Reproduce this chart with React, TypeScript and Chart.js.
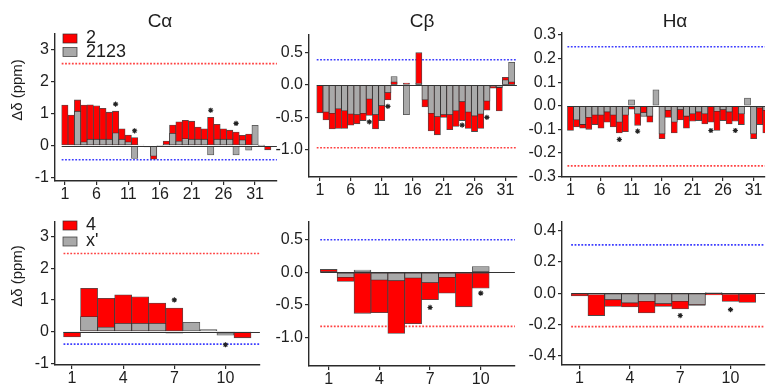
import React, { useEffect, useRef } from 'react';
import { Chart, registerables } from 'chart.js';

Chart.register(...registerables);

// ---------------- data ----------------
const residuesTop = [1, 2, 3, 4, 5, 6, 7, 8, 9, 10, 11, 12, 13, 14, 15, 16, 17, 18, 19, 20, 21, 22, 23, 24, 25, 26, 27, 28, 29, 30, 31, 32, 33];
const residuesBottom = [1, 2, 3, 4, 5, 6, 7, 8, 9, 10, 11];
const xTicksTop = [1, 6, 11, 16, 21, 26, 31];
const xTicksBottom = [1, 4, 7, 10];

// top row: peptide "2" (red) vs "2123" (gray)
const caTop2 = [1.26, 0.95, 1.42, 1.26, 1.27, 1.24, 1.16, 1.04, 1.07, 0.52, 0.33, 0.25, 0, 0, -0.42, 0, 0.14, 0.64, 0.74, 0.79, 0.76, 0.58, 0.52, 0.88, 0.66, 0.52, 0.48, 0.42, 0.32, 0.36, 0, 0, -0.13];
const caTop2123 = [0, 0, 1.07, 0.12, 0.2, 0.2, 0.2, 0.2, 0.4, 0.2, 0.12, -0.4, 0.02, -0.04, -0.33, -0.01, 0.05, 0.38, 0.14, 0.22, 0.2, 0.2, 0.2, -0.29, 0.2, 0.2, 0.2, -0.29, 0.18, -0.14, 0.63, 0.01, 0];
const cbTop2 = [-0.43, -0.54, -0.68, -0.67, -0.67, -0.62, -0.6, -0.55, -0.47, -0.68, -0.55, -0.23, 0.05, 0, 0.03, 0, 0.5, -0.34, -0.71, -0.77, -0.5, -0.69, -0.64, -0.55, -0.67, -0.72, -0.67, -0.39, -0.05, -0.4, 0.12, 0.05, 0];
const cbTop2123 = [0, -0.42, -0.44, -0.37, -0.4, -0.45, -0.46, -0.44, -0.22, -0.46, -0.32, -0.12, 0.13, 0, -0.46, 0, 0.03, -0.23, -0.44, -0.49, -0.46, -0.46, -0.4, -0.26, -0.42, -0.48, -0.45, -0.25, -0.03, -0.04, 0.08, 0.35, 0];
const haTop2 = [-0.105, -0.09, -0.095, -0.1, -0.08, -0.095, -0.07, -0.09, -0.115, -0.11, -0.015, -0.083, -0.03, -0.07, 0, -0.14, -0.05, -0.115, -0.06, -0.095, -0.066, -0.063, -0.077, -0.07, -0.105, -0.063, -0.077, -0.066, -0.08, 0, -0.14, -0.08, -0.115];
const haTop2123 = [0, -0.06, -0.08, -0.05, -0.04, -0.04, -0.027, -0.04, -0.07, -0.04, 0.025, -0.035, -0.045, -0.045, 0.067, -0.12, -0.02, -0.07, -0.017, -0.045, -0.035, -0.027, -0.035, 0, -0.024, -0.017, -0.027, 0, -0.035, 0.032, -0.12, -0.01, -0.02];

// bottom row: peptide "4" (red) vs "x'" (gray)
const caBot4 = [-0.17, 1.37, 1.05, 1.16, 1.1, 0.9, 0.74, 0, 0, -0.05, -0.2];
const caBotX = [0, 0.47, 0.14, 0.26, 0.26, 0.26, -0.05, 0.29, 0.06, -0.12, -0.02];
const cbBot4 = [0.045, -0.14, -0.63, -0.62, -0.94, -0.79, -0.42, -0.32, -0.53, -0.245, 0];
const cbBotX = [0, -0.08, 0.035, -0.12, -0.13, -0.09, -0.16, -0.08, -0.01, 0.09, 0];
const haBot4 = [-0.017, -0.143, -0.084, -0.088, -0.126, -0.084, -0.1, -0.078, -0.01, -0.053, -0.059];
const haBotX = [0, -0.01, -0.042, -0.063, -0.053, -0.067, -0.053, -0.074, 0.004, -0.008, -0.005];

// asterisks
const starResTop = [9, 12, 24, 28];
const caTopStarY = [1.29, 0.46, 1.1, 0.69];
const cbTopStarY = [-0.57, -0.33, -0.62, -0.5];
const haTopStarY = [-0.143, -0.108, -0.105, -0.105];
const starResBottom = [7, 10];
const caBotStarY = [1.0, -0.42];
const cbBotStarY = [-0.54, -0.32];
const haBotStarY = [-0.143, -0.105];

// y ticks
const caYTicks = [3, 2, 1, 0, -1];
const cbYTicks = [0.5, 0, -0.5, -1];
const haTopYTicks = [0.3, 0.2, 0.1, 0, -0.1, -0.2, -0.3];
const haBotYTicks = [0.4, 0.2, 0, -0.2, -0.4];

// threshold lines [red, blue]
const caTopLimits = [2.55, -0.44];
const cbTopLimits = [-0.97, 0.39];
const haTopLimits = [-0.255, 0.25];
const caBotLimits = [2.47, -0.4];
const cbBotLimits = [-0.83, 0.5];
const haBotLimits = [-0.214, 0.31];

const legendTop = ['2', '2123'];
const legendBottom = ['4', "x'"];
const titles = ['C\u03b1', 'C\u03b2', 'H\u03b1'];
const yAxisLabel = '\u0394\u03b4 (ppm)';

// ---------------- styles ----------------
const RED = '#ff0000';
const GRAY = '#a9a9a9';
const EDGE = 'rgba(45,45,45,0.85)';
const AXIS = '#2a2a2a';
const TEXT = '#1e1e1e';
const FONT = "'Liberation Sans', Arial, Helvetica, sans-serif";
Chart.defaults.font.family = FONT;

type PanelCfg = {
  key: string;
  left: number; top: number; width: number; height: number;
  padTop: number; padRight: number; yW: number; xH: number;
  xMin: number; xMax: number; yMin: number; yMax: number;
  residues: number[]; red: number[]; gray: number[];
  starX: number[]; starY: number[];
  xTicks: number[]; yTicks: number[]; intY: boolean;
  limits: number[];
  title?: string; titleX?: number; titleY?: number;
  ylabel?: { x: number; y: number };
  legend?: { labels: string[]; x: number; y1: number; y2: number };
};

function buildLayers(residues: number[], red: number[], gray: number[]) {
  const back: any[] = [], front: any[] = [], backC: string[] = [], frontC: string[] = [];
  residues.forEach((r, i) => {
    const a = red[i], b = gray[i];
    const redBig = Math.abs(a) >= Math.abs(b);
    const big = redBig ? a : b, small = redBig ? b : a;
    back.push({ x: r, y: big === 0 ? null : big });
    backC.push(redBig ? RED : GRAY);
    front.push({ x: r, y: small === 0 ? null : small });
    frontC.push(redBig ? GRAY : RED);
  });
  return { back, front, backC, frontC };
}

function makeDecor(p: PanelCfg) {
  return {
    id: 'decor_' + p.key,
    beforeDatasetsDraw(chart: any) {
      const { ctx, chartArea, scales } = chart;
      const xs = scales.x, ys = scales.y;
      const x0 = xs.getPixelForValue(p.residues[0] - 0.5);
      ctx.save();
      ctx.lineWidth = 1.6;
      ctx.setLineDash([1.8, 1.6]);
      [['rgba(255,55,55,0.95)', p.limits[0]], ['rgba(50,50,255,0.95)', p.limits[1]]].forEach(([c, v]: any) => {
        const py = ys.getPixelForValue(v);
        ctx.strokeStyle = c;
        ctx.beginPath();
        ctx.moveTo(x0, py);
        ctx.lineTo(chartArea.right, py);
        ctx.stroke();
      });
      ctx.restore();
    },
    afterDatasetsDraw(chart: any) {
      const { ctx, chartArea, scales } = chart;
      const xs = scales.x, ys = scales.y;
      const x0 = xs.getPixelForValue(p.residues[0] - 0.5);
      const py = Math.round(ys.getPixelForValue(0)) + 0.5;
      ctx.save();
      ctx.strokeStyle = '#333';
      ctx.lineWidth = 1;
      ctx.beginPath();
      ctx.moveTo(x0, py);
      ctx.lineTo(chartArea.right, py);
      ctx.stroke();
      ctx.restore();
    },
    afterDraw(chart: any) {
      const { ctx } = chart;
      ctx.save();
      ctx.fillStyle = TEXT;
      ctx.textBaseline = 'middle';
      if (p.title) {
        ctx.font = `19px ${FONT}`;
        ctx.textAlign = 'center';
        ctx.fillText(p.title, (p.titleX as number) - p.left, (p.titleY as number) - p.top);
      }
      if (p.ylabel) {
        ctx.save();
        ctx.font = `15px ${FONT}`;
        ctx.textAlign = 'center';
        ctx.translate(p.ylabel.x - p.left, p.ylabel.y - p.top);
        ctx.rotate(-Math.PI / 2);
        ctx.fillText(yAxisLabel, 0, 0);
        ctx.restore();
      }
      if (p.legend) {
        const L = p.legend;
        const sx = L.x - p.left;
        const items: [string, string, number][] = [[RED, L.labels[0], L.y1], [GRAY, L.labels[1], L.y2]];
        items.forEach(([c, t, yy]) => {
          const y = yy - p.top;
          ctx.fillStyle = c;
          ctx.fillRect(sx, y - 4.5, 14, 9);
          ctx.strokeStyle = EDGE;
          ctx.lineWidth = 0.8;
          ctx.strokeRect(sx, y - 4.5, 14, 9);
          ctx.fillStyle = TEXT;
          ctx.font = `18px ${FONT}`;
          ctx.textAlign = 'left';
          ctx.fillText(t, sx + 23, y);
        });
      }
      ctx.restore();
    },
  };
}

function makeChart(canvas: HTMLCanvasElement, p: PanelCfg) {
  const lay = buildLayers(p.residues, p.red, p.gray);
  const barCommon = {
    type: 'bar',
    grouped: false,
    barPercentage: 1,
    categoryPercentage: 1,
    borderWidth: 0.8,
    borderColor: EDGE,
    borderSkipped: false,
  };
  const config: any = {
    type: 'bar',
    data: {
      datasets: [
        {
          type: 'scatter',
          data: p.starX.map((x, i) => ({ x, y: p.starY[i] })),
          pointStyle: 'star',
          radius: 2.6,
          borderColor: '#222',
          backgroundColor: '#222',
          borderWidth: 1.1,
          order: 0,
        },
        { ...barCommon, data: lay.front, backgroundColor: lay.frontC, order: 1 },
        { ...barCommon, data: lay.back, backgroundColor: lay.backC, order: 2 },
      ],
    },
    options: {
      responsive: false,
      animation: false,
      devicePixelRatio: 1,
      layout: { padding: { top: p.padTop, right: p.padRight, left: 0, bottom: 0 } },
      plugins: { legend: { display: false }, tooltip: { enabled: false }, title: { display: false } },
      scales: {
        x: {
          type: 'linear',
          min: p.xMin,
          max: p.xMax,
          offset: false,
          afterBuildTicks: (s: any) => { s.ticks = p.xTicks.map((v) => ({ value: v })); },
          afterFit: (s: any) => { s.height = p.xH; },
          grid: { display: true, drawOnChartArea: false, drawTicks: true, tickLength: 4, color: AXIS, lineWidth: 1.2, offset: false },
          border: { display: true, color: AXIS, width: 1.4 },
          ticks: { font: { size: 16, family: FONT }, color: TEXT, padding: 0, maxRotation: 0, autoSkip: false, callback: (v: any) => String(v) },
        },
        y: {
          type: 'linear',
          min: p.yMin,
          max: p.yMax,
          afterBuildTicks: (s: any) => { s.ticks = p.yTicks.map((v) => ({ value: v })); },
          afterFit: (s: any) => { s.width = p.yW; },
          grid: { display: true, drawOnChartArea: false, drawTicks: true, tickLength: 4, color: AXIS, lineWidth: 1.2 },
          border: { display: true, color: AXIS, width: 1.4 },
          ticks: {
            font: { size: 16, family: FONT }, color: TEXT, padding: 2, autoSkip: false,
            callback: (v: any) => (p.intY ? String(Math.round(v)) : Number(v).toFixed(1)),
          },
        },
      },
    },
    plugins: [makeDecor(p)],
  };
  return new Chart(canvas, config);
}

const panels: PanelCfg[] = [
  {
    key: 'caTop', left: 0, top: 0, width: 282, height: 206, padTop: 34, padRight: 2, yW: 55, xH: 25,
    xMin: -0.555, xMax: 34.44, yMin: -1.10, yMax: 3.47,
    residues: residuesTop, red: caTop2, gray: caTop2123, starX: starResTop, starY: caTopStarY,
    xTicks: xTicksTop, yTicks: caYTicks, intY: true, limits: caTopLimits,
    title: titles[0], titleX: 160, titleY: 22,
    ylabel: { x: 18, y: 90 },
    legend: { labels: legendTop, x: 63, y1: 38.5, y2: 52 },
  },
  {
    key: 'cbTop', left: 262, top: 0, width: 260, height: 201, padTop: 35, padRight: 2, yW: 47, xH: 24,
    xMin: -0.75, xMax: 32.85, yMin: -1.422, yMax: 0.773,
    residues: residuesTop, red: cbTop2, gray: cbTop2123, starX: starResTop, starY: cbTopStarY,
    xTicks: xTicksTop, yTicks: cbYTicks, intY: false, limits: cbTopLimits,
    title: titles[1], titleX: 422, titleY: 22,
  },
  {
    key: 'haTop', left: 515, top: 0, width: 255, height: 201, padTop: 33, padRight: 0, yW: 47, xH: 24,
    xMin: -0.39, xMax: 32.85, yMin: -0.302, yMax: 0.308,
    residues: residuesTop, red: haTop2, gray: haTop2123, starX: starResTop, starY: haTopStarY,
    xTicks: xTicksTop, yTicks: haTopYTicks, intY: false, limits: haTopLimits,
    title: titles[2], titleX: 675, titleY: 22,
  },
  {
    key: 'caBot', left: 0, top: 190, width: 265, height: 194, padTop: 32, padRight: 2, yW: 55, xH: 19,
    xMin: 0.0, xMax: 12.02, yMin: -1.06, yMax: 3.465,
    residues: residuesBottom, red: caBot4, gray: caBotX, starX: starResBottom, starY: caBotStarY,
    xTicks: xTicksBottom, yTicks: caYTicks, intY: true, limits: caBotLimits,
    ylabel: { x: 18, y: 276 },
    legend: { labels: legendBottom, x: 63, y1: 225.5, y2: 241.5 },
  },
  {
    key: 'cbBot', left: 262, top: 190, width: 258, height: 194, padTop: 32, padRight: 2, yW: 47, xH: 18,
    xMin: -0.166, xMax: 12.02, yMin: -1.44, yMax: 0.774,
    residues: residuesBottom, red: cbBot4, gray: cbBotX, starX: starResBottom, starY: cbBotStarY,
    xTicks: xTicksBottom, yTicks: cbYTicks, intY: false, limits: cbBotLimits,
  },
  {
    key: 'haBot', left: 515, top: 190, width: 255, height: 194, padTop: 32, padRight: 0, yW: 47, xH: 19,
    xMin: -0.047, xMax: 12.05, yMin: -0.46, yMax: 0.457,
    residues: residuesBottom, red: haBot4, gray: haBotX, starX: starResBottom, starY: haBotStarY,
    xTicks: xTicksBottom, yTicks: haBotYTicks, intY: false, limits: haBotLimits,
  },
];

function Panel({ p }: { p: PanelCfg }) {
  const ref = useRef<HTMLCanvasElement>(null);
  useEffect(() => {
    if (!ref.current) return;
    const chart = makeChart(ref.current, p);
    return () => chart.destroy();
  }, [p]);
  return (
    <canvas
      ref={ref}
      width={p.width}
      height={p.height}
      style={{ position: 'absolute', left: p.left, top: p.top, width: p.width, height: p.height }}
    />
  );
}

export default function App() {
  return (
    <div style={{ position: 'absolute', left: 0, top: 0, width: 770, height: 384, overflow: 'hidden', background: '#fff' }}>
      {panels.map((p) => (
        <Panel key={p.key} p={p} />
      ))}
    </div>
  );
}
